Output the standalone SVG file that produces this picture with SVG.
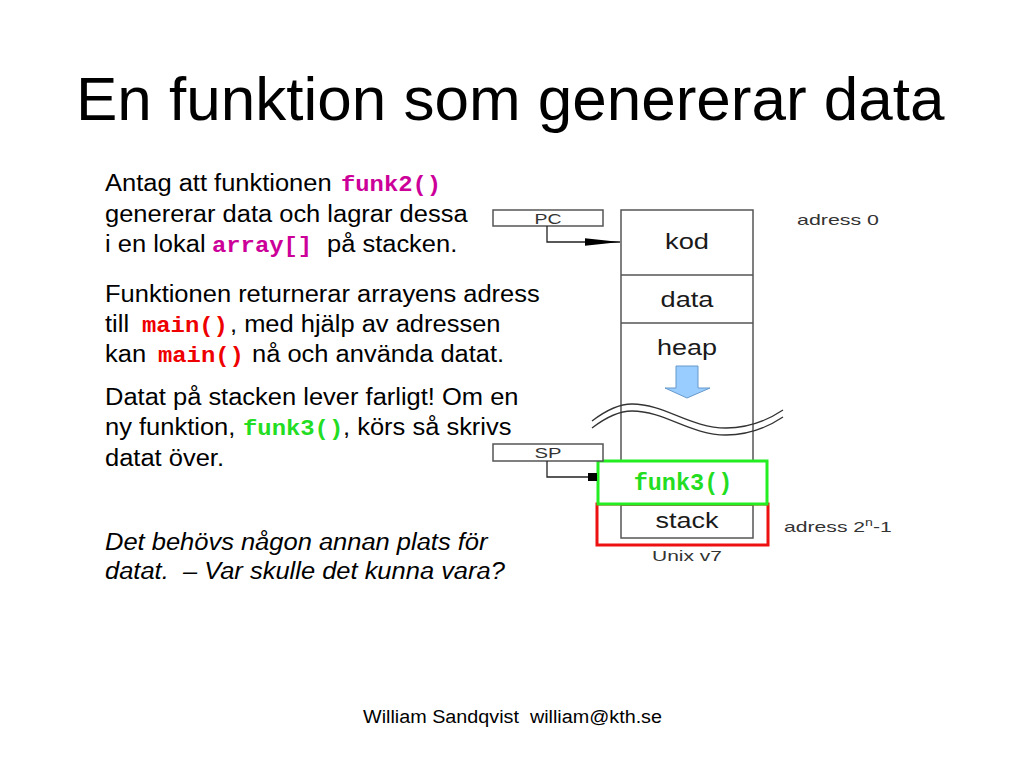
<svg xmlns="http://www.w3.org/2000/svg" width="1024" height="768" viewBox="0 0 1024 768">
<style>
.t{font-family:"Liberation Sans",Arial,sans-serif;fill:#000}
.body{font-size:23.5px}
.code{font-family:"Liberation Mono","Courier New",monospace;font-weight:bold;font-size:22px}
.mag{fill:#cc0099}
.red{fill:#ee0000}
.grn{fill:#22dd22}
.lbl{font-family:"Liberation Sans",Arial,sans-serif;font-size:22px;fill:#1a1a1a;text-anchor:middle}
.small{font-family:"Liberation Sans",Arial,sans-serif;font-size:15px;fill:#333}
.box{fill:#fff;stroke:#555;stroke-width:1.5}
.conn{fill:none;stroke:#222;stroke-width:1.3}
</style>
<defs>
<marker id="tri" markerWidth="36" markerHeight="10" refX="35" refY="5" orient="auto" markerUnits="userSpaceOnUse">
<path d="M0,1.2 L35,5 L0,8.8 Z" fill="#000"/>
</marker>
<marker id="sq" markerWidth="10" markerHeight="10" refX="9" refY="5" orient="auto" markerUnits="userSpaceOnUse">
<rect x="0" y="1" width="9" height="8" fill="#000"/>
</marker>
</defs>
<rect width="1024" height="768" fill="#fff"/>

<text class="t" x="76" y="120" font-size="62">En funktion som genererar data</text>

<g transform="translate(105,0) scale(1.085,1) translate(-105,0)">
<g id="para1" class="t body">
<text x="105" y="191">Antag att funktionen <tspan class="code mag" x="322.5">funk2()</tspan></text>
<text x="105" y="222">genererar data och lagrar dessa</text>
<text x="105" y="252">i en lokal <tspan class="code mag" x="203.6">array[]</tspan><tspan x="309.6">på stacken.</tspan></text>
</g>
<g id="para2" class="t body">
<text x="105" y="302">Funktionen returnerar arrayens adress</text>
<text x="105" y="332">till <tspan class="code red" x="139.1">main()</tspan><tspan x="220.2">, med hjälp av adressen</tspan></text>
<text x="105" y="362">kan <tspan class="code red" x="153.8">main()</tspan><tspan x="240.5">nå och använda datat.</tspan></text>
</g>
<g id="para3" class="t body">
<text x="105" y="405">Datat på stacken lever farligt! Om en</text>
<text x="105" y="435">ny funktion, <tspan class="code grn" x="232.2">funk3()</tspan><tspan x="324.4">, körs så skrivs</tspan></text>
<text x="105" y="466">datat över.</text>
</g>
<g id="para4" class="t body" font-style="italic">
<text x="105" y="550">Det behövs någon annan plats för</text>
<text x="105" y="579">datat.&#160; – Var skulle det kunna vara?</text>
</g>
</g>

<g id="memory">
<rect class="box" x="621" y="210" width="132" height="328"/>
<line x1="621" y1="275" x2="753" y2="275" stroke="#555" stroke-width="1.5"/>
<line x1="621" y1="323" x2="753" y2="323" stroke="#555" stroke-width="1.5"/>
<line x1="621" y1="505" x2="753" y2="505" stroke="#555" stroke-width="1.5"/>
</g>
<g id="kod"><text class="lbl" x="687" y="249" textLength="44" lengthAdjust="spacingAndGlyphs">kod</text></g>
<g id="data"><text class="lbl" x="687" y="307" textLength="53" lengthAdjust="spacingAndGlyphs">data</text></g>
<g id="heap">
<text class="lbl" x="687" y="355" textLength="60" lengthAdjust="spacingAndGlyphs">heap</text>
<path d="M676,366 H698 V388 H710 L687,398 L665,388 H676 Z" fill="#99ccff" stroke="#6699cc" stroke-width="1"/>
</g>
<g id="wave" fill="none" stroke="#333" stroke-width="1.3">
<path d="M592,421 C605,411 618,404 632,404 C665,404 690,428 726,428 C750,428 768,420 783,410"/>
<path d="M592,428 C605,418 618,411 632,411 C665,411 690,435 726,435 C750,435 768,427 783,417"/>
</g>
<g id="stack">
<rect x="597" y="504" width="171" height="41" fill="none" stroke="#ee1111" stroke-width="3"/>
<text class="lbl" x="687" y="528" textLength="63" lengthAdjust="spacingAndGlyphs">stack</text>
</g>
<g id="funk3">
<rect x="598" y="461" width="169" height="43" fill="#fff" stroke="#22ee22" stroke-width="3"/>
<text class="code grn" x="683" y="490" text-anchor="middle" style="font-size:23.5px">funk3()</text>
</g>
<g id="PC">
<rect class="box" x="493" y="210" width="110" height="16" stroke-width="1.2"/>
<text class="small" x="548" y="224" text-anchor="middle" font-size="14" fill="#444" textLength="27" lengthAdjust="spacingAndGlyphs">PC</text>
</g>
<g id="SP">
<rect class="box" x="493" y="444" width="110" height="17" stroke-width="1.2"/>
<text class="small" x="548" y="458" text-anchor="middle" font-size="14" fill="#444" textLength="27" lengthAdjust="spacingAndGlyphs">SP</text>
</g>
<g id="labels">
<text class="small" x="797" y="225" textLength="82" lengthAdjust="spacingAndGlyphs">adress 0</text>
<text class="small" transform="translate(784,532) scale(1.41,1)" x="0" y="0">adress 2<tspan font-size="10" dy="-6">n</tspan><tspan dy="6">-1</tspan></text>
<text class="small" x="687" y="561" text-anchor="middle" textLength="70" lengthAdjust="spacingAndGlyphs">Unix v7</text>
</g>
<g id="connectors">
<path class="conn" d="M547,226 V242 H620" marker-end="url(#tri)"/>
<path class="conn" d="M547,461 V477 H597" marker-end="url(#sq)"/>
</g>

<text class="t" x="363" y="723" font-size="18" textLength="299" lengthAdjust="spacingAndGlyphs">William Sandqvist&#160; william@kth.se</text>
</svg>
